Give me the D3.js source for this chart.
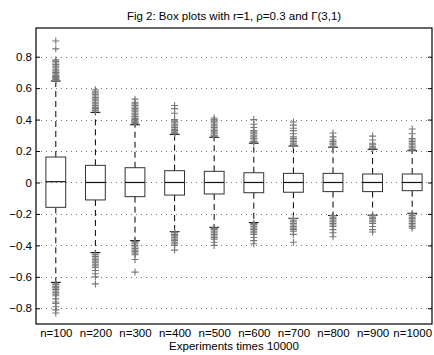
<!DOCTYPE html>
<html>
<head>
<meta charset="utf-8">
<script src="https://cdn.jsdelivr.net/npm/d3@7"></script>
<style>
  body { margin: 0; background: #fff; }
  svg { display: block; font-family: 'Liberation Sans', Arial, sans-serif; }
</style>
</head>
<body>
<svg id="chart"></svg>
<script>
// box statistics
const labels = ['n=100', 'n=200', 'n=300', 'n=400', 'n=500', 'n=600', 'n=700', 'n=800', 'n=900', 'n=1000']
const lowerWhisker = [-0.635, -0.446, -0.37, -0.313, -0.285, -0.255, -0.228, -0.21, -0.208, -0.196]
const q1 = [-0.158, -0.111, -0.09, -0.08, -0.073, -0.065, -0.062, -0.058, -0.058, -0.052]
const medians = [0.005, 0, 0, 0, 0, 0, 0, 0, 0, 0]
const q3 = [0.162, 0.109, 0.094, 0.075, 0.071, 0.062, 0.058, 0.058, 0.054, 0.054]
const upperWhisker = [0.645, 0.446, 0.367, 0.306, 0.287, 0.25, 0.232, 0.224, 0.211, 0.202]

const outliersHigh = [
  [0.65, 0.655, 0.66, 0.665, 0.67, 0.675, 0.68, 0.69, 0.695, 0.7, 0.71, 0.72, 0.73, 0.74, 0.75, 0.76, 0.77, 0.78, 0.85, 0.9],
  [0.455, 0.46, 0.47, 0.475, 0.48, 0.49, 0.5, 0.51, 0.52, 0.53, 0.54, 0.55, 0.56, 0.57, 0.58, 0.59],
  [0.375, 0.38, 0.385, 0.39, 0.4, 0.405, 0.41, 0.42, 0.43, 0.44, 0.45, 0.46, 0.47, 0.48, 0.49, 0.5, 0.51, 0.53],
  [0.31, 0.315, 0.32, 0.33, 0.335, 0.34, 0.35, 0.36, 0.37, 0.38, 0.39, 0.4, 0.44, 0.47, 0.49],
  [0.29, 0.295, 0.3, 0.31, 0.32, 0.33, 0.34, 0.35, 0.36, 0.37, 0.38, 0.39, 0.4, 0.41],
  [0.255, 0.26, 0.27, 0.28, 0.29, 0.3, 0.31, 0.32, 0.33, 0.35, 0.37, 0.4],
  [0.235, 0.24, 0.25, 0.26, 0.27, 0.28, 0.29, 0.31, 0.33, 0.345, 0.365, 0.385],
  [0.225, 0.23, 0.24, 0.25, 0.26, 0.27, 0.29, 0.315],
  [0.215, 0.22, 0.23, 0.24, 0.25, 0.27, 0.295],
  [0.205, 0.21, 0.22, 0.23, 0.24, 0.25, 0.26, 0.27, 0.28, 0.31, 0.34]
]
const outliersLow = [
  [-0.645, -0.65, -0.66, -0.665, -0.67, -0.68, -0.69, -0.7, -0.71, -0.72, -0.74, -0.76, -0.77, -0.79, -0.81, -0.83],
  [-0.455, -0.46, -0.47, -0.48, -0.49, -0.5, -0.51, -0.52, -0.53, -0.54, -0.56, -0.58, -0.6, -0.645],
  [-0.375, -0.38, -0.39, -0.4, -0.41, -0.42, -0.43, -0.44, -0.45, -0.46, -0.49, -0.57],
  [-0.315, -0.32, -0.33, -0.335, -0.34, -0.35, -0.36, -0.37, -0.38, -0.39, -0.4, -0.43],
  [-0.29, -0.295, -0.3, -0.31, -0.32, -0.33, -0.34, -0.35, -0.36, -0.38, -0.4],
  [-0.26, -0.265, -0.27, -0.28, -0.29, -0.3, -0.31, -0.32, -0.33, -0.35, -0.37, -0.39],
  [-0.23, -0.24, -0.25, -0.26, -0.27, -0.28, -0.29, -0.3, -0.31, -0.33, -0.38],
  [-0.21, -0.22, -0.23, -0.24, -0.25, -0.26, -0.27, -0.28, -0.3, -0.32, -0.345],
  [-0.21, -0.22, -0.23, -0.24, -0.25, -0.26, -0.28, -0.3, -0.315],
  [-0.2, -0.21, -0.22, -0.23, -0.24, -0.25, -0.26, -0.27, -0.28, -0.29]
]

const yTicks = [-0.8, -0.6, -0.4, -0.2, 0, 0.2, 0.4, 0.6, 0.8]
const yRange = [-0.9, 0.9825]

const margin = { top: 28, right: 2, bottom: 31, left: 36 }
const width = 434 - margin.left - margin.right
const height = 355 - margin.top - margin.bottom

const boxes = labels.map((label, i) => ({
  label,
  lo: lowerWhisker[i],
  q1: q1[i],
  med: medians[i],
  q3: q3[i],
  hi: upperWhisker[i],
  outliers: outliersHigh[i].concat(outliersLow[i])
}))

const x = d3.scalePoint().domain(labels).range([0, width]).padding(0.5)
const y = d3.scaleLinear().domain(yRange).range([height, 0])
const boxWidth = x.step() * 0.5

const root = d3.select('#chart').attr('width', 434).attr('height', 355)

root
  .append('text')
  .attr('x', margin.left + width / 2)
  .attr('y', 20)
  .attr('text-anchor', 'middle')
  .style('font-size', '11.5px')
  .text('Fig 2: Box plots with r=1, ρ=0.3 and Γ(3,1)')

const svg = root.append('g').attr('transform', `translate(${margin.left},${margin.top})`)

// dotted horizontal grid
svg
  .selectAll('.grid')
  .data(yTicks)
  .join('line')
  .attr('x1', 0)
  .attr('x2', width)
  .attr('y1', (d) => Math.round(y(d)) + 0.5)
  .attr('y2', (d) => Math.round(y(d)) + 0.5)
  .attr('stroke', '#777')
  .attr('stroke-width', 1)
  .attr('stroke-dasharray', '1,4')

// y axis, ticks pointing inward
svg
  .append('g')
  .call(
    d3
      .axisLeft(y)
      .tickValues(yTicks)
      .tickSize(-4)
      .tickPadding(4)
      .tickFormat((d) => (d === 0 ? '0' : d3.format('.1f')(d)))
  )
  .call((g) => g.select('.domain').remove())
  .call((g) => g.selectAll('text').style('font-size', '11.5px').attr('fill', '#000'))
  .call((g) => g.selectAll('line').attr('stroke', '#000'))

svg
  .append('g')
  .attr('transform', `translate(${width},0)`)
  .call(d3.axisRight(y).tickValues(yTicks).tickSize(-4).tickFormat(''))
  .call((g) => g.select('.domain').remove())
  .call((g) => g.selectAll('line').attr('stroke', '#000'))

// x tick labels
svg
  .append('g')
  .attr('transform', `translate(0,${height})`)
  .call(d3.axisBottom(x).tickSize(0).tickPadding(5))
  .call((g) => g.select('.domain').remove())
  .call((g) => g.selectAll('text').style('font-size', '11.5px').attr('fill', '#000'))

root
  .append('text')
  .attr('x', margin.left + width / 2)
  .attr('y', 350)
  .attr('text-anchor', 'middle')
  .style('font-size', '11.5px')
  .text('Experiments times 10000')

const box = svg
  .selectAll('.box')
  .data(boxes)
  .join('g')
  .attr('class', 'box')
  .attr('transform', (d) => `translate(${x(d.label)},0)`)

// dashed whiskers
box
  .append('line')
  .attr('y1', (d) => y(d.q3))
  .attr('y2', (d) => y(d.hi))
  .attr('stroke', '#000')
  .attr('stroke-dasharray', '6,4')
box
  .append('line')
  .attr('y1', (d) => y(d.q1))
  .attr('y2', (d) => y(d.lo))
  .attr('stroke', '#000')
  .attr('stroke-dasharray', '6,4')

// whisker caps
box
  .selectAll('.cap')
  .data((d) => [d.lo, d.hi])
  .join('line')
  .attr('x1', -boxWidth / 4)
  .attr('x2', boxWidth / 4)
  .attr('y1', (d) => y(d))
  .attr('y2', (d) => y(d))
  .attr('stroke', '#000')

box
  .append('rect')
  .attr('x', -boxWidth / 2)
  .attr('width', boxWidth)
  .attr('y', (d) => y(d.q3))
  .attr('height', (d) => y(d.q1) - y(d.q3))
  .attr('fill', 'none')
  .attr('stroke', '#333')

box
  .append('line')
  .attr('x1', -boxWidth / 2)
  .attr('x2', boxWidth / 2)
  .attr('y1', (d) => y(d.med))
  .attr('y2', (d) => y(d.med))
  .attr('stroke', '#111')
  .attr('stroke-width', 1.2)

// outliers drawn as + markers
box
  .selectAll('.outlier')
  .data((d) => d.outliers)
  .join('path')
  .attr('d', 'M-3.5,0H3.5M0,-3.5V3.5')
  .attr('transform', (d) => `translate(0,${y(d)})`)
  .attr('stroke', '#777')
  .attr('stroke-width', 1.1)
  .attr('fill', 'none')

// axes frame
svg
  .append('rect')
  .attr('width', width)
  .attr('height', height)
  .attr('fill', 'none')
  .attr('stroke', '#000')
  .attr('stroke-width', 1.2)
</script>
</body>
</html>
